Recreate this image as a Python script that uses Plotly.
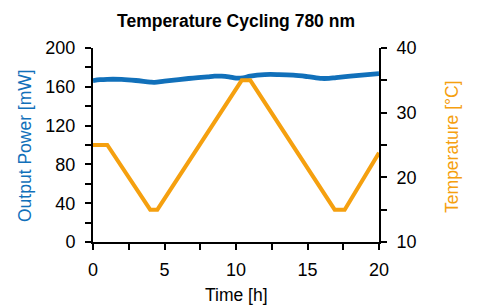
import plotly.graph_objects as go

# Data
time_power = [0, 0.5, 1, 2, 3, 4, 4.3, 5, 6, 7, 8, 8.5, 9, 9.5, 10, 10.5, 11, 12, 13, 14, 15, 16, 16.5, 17, 18, 19, 20]
power_mw = [166.3, 167.3, 167.7, 167.6, 166.5, 164.8, 164.6, 165.8, 167.5, 169, 170.3, 171, 171, 170.3, 169, 169.3, 171, 172.6, 172.6, 172, 170.5, 168.6, 168.7, 169.5, 171, 172.3, 173.5]

time_temp = [0, 1.0, 4.0, 4.5, 10.4, 11.0, 16.9, 17.6, 20]
temp_c = [25, 25, 15, 15, 35, 35, 15, 15, 23.8]

x_ticks = [0, 5, 10, 15, 20]
power_ticks = [0, 40, 80, 120, 160, 200]
temp_ticks = [10, 20, 30, 40]

BLUE = "#1170BA"
ORANGE = "#F5A00F"
FONT = "Liberation Sans"

fig = go.Figure()
fig.add_trace(go.Scatter(x=time_temp, y=temp_c, mode="lines", yaxis="y2",
                         line=dict(color=ORANGE, width=4), showlegend=False))
fig.add_trace(go.Scatter(x=time_power, y=power_mw, mode="lines", line_shape="spline",
                         line=dict(color=BLUE, width=4.8), showlegend=False))

def axis_common(standoff):
    return dict(showline=True, linecolor="black", linewidth=2, showgrid=False, zeroline=False,
                ticks="outside", ticklen=6, tickwidth=2, tickcolor="black",
                ticklabelstandoff=standoff,
                tickfont=dict(family=FONT, size=18, color="black"))

fig.update_layout(
    width=478, height=307,
    margin=dict(l=85, r=107, t=40, b=73, autoexpand=False),
    paper_bgcolor="white", plot_bgcolor="white",
    title=dict(text="<b>Temperature Cycling 780 nm</b>", x=0.5, xref="paper", xanchor="center",
               y=0.9577, yref="container", yanchor="middle",
               font=dict(family=FONT, size=17.5, color="black")),
    xaxis=dict(range=[0, 20], tickvals=x_ticks,
               minor=dict(dtick=2.5, ticks="outside", ticklen=6, tickwidth=2, tickcolor="black"),
               **axis_common(4)),
    yaxis=dict(range=[0, 200], tickvals=power_ticks,
               minor=dict(dtick=20, ticks="outside", ticklen=6, tickwidth=2, tickcolor="black"),
               **axis_common(6)),
    yaxis2=dict(range=[10, 40], tickvals=temp_ticks, overlaying="y", side="right",
                minor=dict(dtick=5, ticks="outside", ticklen=6, tickwidth=2, tickcolor="black"),
                **axis_common(6)),
    annotations=[
        dict(text="Time [h]", xref="paper", yref="paper", x=0.5, y=-0.273, xanchor="center", yanchor="middle",
             showarrow=False, font=dict(family=FONT, size=17.5, color="black")),
        dict(text="Output Power [mW]", xref="paper", yref="paper", x=-0.2378, y=0.5, xanchor="center",
             yanchor="middle", textangle=-90, showarrow=False, font=dict(family=FONT, size=17.5, color=BLUE)),
        dict(text="Temperature [°C]", xref="paper", yref="paper", x=1.2552, y=0.49, xanchor="center",
             yanchor="middle", textangle=-90, showarrow=False, font=dict(family=FONT, size=17.5, color=ORANGE)),
    ],
)

fig.write_html("out.html")
